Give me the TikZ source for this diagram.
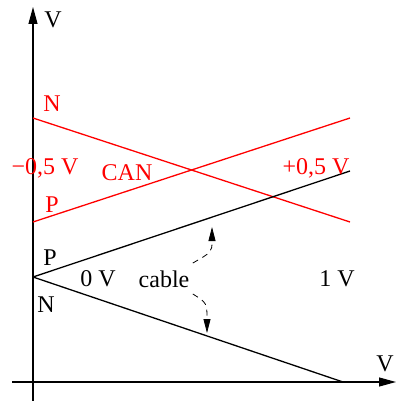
\documentclass[tikz,border=0pt]{standalone}
\usepackage{fontspec}
\setmainfont{Liberation Serif}
\usetikzlibrary{arrows.meta}

\begin{document}
\begin{tikzpicture}[x=1pt,y=-1pt,font=\fontsize{24}{28}\selectfont,
  axis/.style={line width=1.1pt,-{Triangle[length=17pt,width=9pt]}},
  can/.style={red,line width=1.3pt},
  wire/.style={line width=1.3pt},
  cablearrow/.style={dashed,dash pattern=on 6pt off 5pt,line width=0.8pt,-{Triangle[length=14pt,width=7pt]}}]
\useasboundingbox (0,0) rectangle (396,401);
\coordinate (Ybot) at (33,401);
\coordinate (Ytop) at (33,7);
\coordinate (Xleft) at (12,382);
\coordinate (Xright) at (396,382);
\coordinate (NA) at (33,118);
\coordinate (NB) at (350,222);
\coordinate (PA) at (33,222);
\coordinate (PB) at (350,118);
\coordinate (S) at (33,277);
\coordinate (SP) at (350,171);
\coordinate (SN) at (343,382);
\coordinate (TP) at (212,227);
\coordinate (TN) at (207,333);

% axes
\draw[axis] (Ybot) -- (Ytop);
\draw[axis] (Xleft) -- (Xright);

% CAN levels
\draw[can] (NA) -- (NB);
\draw[can] (PA) -- (PB);

% cable levels
\draw[wire] (S) -- (SP);
\draw[wire] (S) -- (SN);

\node (vtop) at (53,20) {V};
\node (vright) at (385,364) {V};

\node[red] (canN) at (52,104) {N};
\node[red] (canP) at (52,205) {P};
\node[red] (minus) at (45,168) {−0,5 V};
\node[red] (canlab) at (127,173) {CAN};
\node[red] (plus) at (316,168) {+0,5 V};

\node (wireP) at (50,258) {P};
\node (wireN) at (46,305) {N};
\node (zero) at (98,279) {0 V};
\node (cable) at (164,279) {cable};
\node (one) at (337,279) {1 V};

\draw[cablearrow] ([yshift=4pt]cable.north east) .. controls (212,252) .. (TP);
\draw[cablearrow] ([yshift=-3pt]cable.south east) .. controls (207,303) .. (TN);
\end{tikzpicture}
\end{document}
